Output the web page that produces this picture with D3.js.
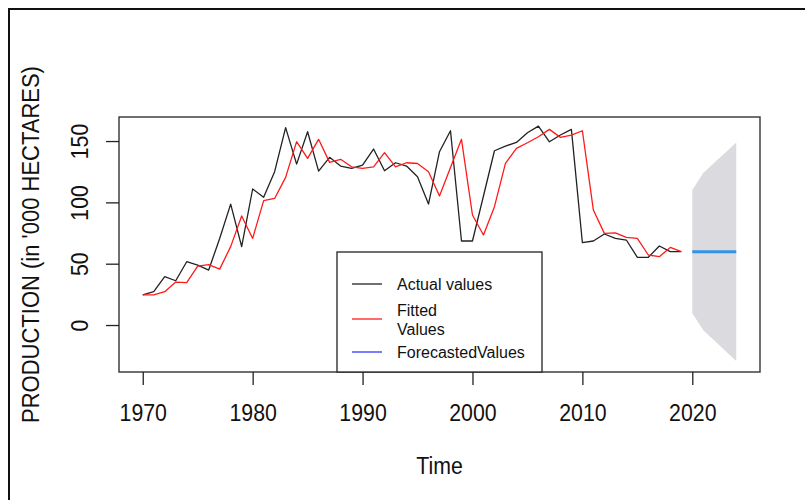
<!DOCTYPE html>
<html><head><meta charset="utf-8">
<script src="https://cdn.jsdelivr.net/npm/d3@7/dist/d3.min.js"></script>
<style>body{margin:0;background:#fff}svg{display:block}</style>
</head><body><svg id="c" width="805" height="500"></svg>
<script>
// ---- data ----
const years = [1970,1971,1972,1973,1974,1975,1976,1977,1978,1979,
  1980,1981,1982,1983,1984,1985,1986,1987,1988,1989,
  1990,1991,1992,1993,1994,1995,1996,1997,1998,1999,
  2000,2001,2002,2003,2004,2005,2006,2007,2008,2009,
  2010,2011,2012,2013,2014,2015,2016,2017,2018,2019];
const actualValues = [24.5,27.2,39.4,36.1,51.6,48.9,44.8,70.6,98.6,63.9,
  110.9,104.1,125,160.9,131.2,157.6,125.5,136.7,129.6,127.7,
  130.4,143.5,125.8,132.3,129.6,120.9,98.6,141.3,158.4,68.5,
  68.5,105.2,142.1,145.9,148.9,156.8,162.2,149.4,154.9,159.5,
  67.1,68.5,74.2,70.6,69.3,55.2,55.2,64.4,59.8,59.8];
const fittedValues = [24.5,24.5,27.2,35,34.5,48.1,49.2,45.6,63.9,88.9,
  70.6,101.4,103.2,120.4,149.5,135.9,151.4,132.6,135.1,129,
  127.7,129,140.5,129,132.3,131.7,125,105.2,128.5,151.4,
  89.7,73.4,96.5,131.8,144,148.6,153.5,159.5,153,154.9,
  158.4,93.7,74.7,75.2,71.5,70.6,57.1,55.7,63.3,59.8];
const forecastYears = [2020,2021,2022,2023,2024];
const forecastMean  = [59.8,59.8,59.8,59.8,59.8];
const forecastUpper = [110.0,123.9,132.2,140.5,148.9];
const forecastLower = [9.6,-4.3,-12.6,-20.9,-29.3];
const xTicks = [1970,1980,1990,2000,2010,2020];
const yTicks = [0,50,100,150];
const legendLabels = [["Actual values"],["Fitted","Values"],["ForecastedValues"]];
const xTitle = "Time";
const yTitle = "PRODUCTION (in '000 HECTARES)";

// ---- layout ----
const svg = d3.select("#c");
const L = 119, R = 760, T = 117, B = 372;
const x = d3.scaleLinear().domain([1967.84, 2026.16]).range([L, R]);
const y = d3.scaleLinear().domain([-38.3, 169.6]).range([B, T]);
const font = "'Liberation Sans', Arial, sans-serif";

// outer frame (top & left edges)
svg.append("line").attr("x1", 8).attr("x2", 805).attr("y1", 9).attr("y2", 9)
  .attr("stroke", "#111").attr("stroke-width", 2);
svg.append("line").attr("x1", 9).attr("x2", 9).attr("y1", 8).attr("y2", 500)
  .attr("stroke", "#111").attr("stroke-width", 2);

// forecast band
const fc = forecastYears.map((yr, i) => ({yr, m: forecastMean[i], lo: forecastLower[i], hi: forecastUpper[i]}));
svg.append("path").datum(fc)
  .attr("d", d3.area().x(d => x(d.yr)).y0(d => y(d.lo)).y1(d => y(d.hi)))
  .attr("fill", "#dadadf");
svg.append("path").datum(fc)
  .attr("d", d3.line().x(d => x(d.yr)).y(d => y(d.m)))
  .attr("fill", "none").attr("stroke", "#2f95e4").attr("stroke-width", 3);

// lines
const act = years.map((yr, i) => [yr, actualValues[i]]);
const fit = years.map((yr, i) => [yr, fittedValues[i]]);
const line = d3.line().x(d => x(d[0])).y(d => y(d[1]));
svg.append("path").datum(act).attr("d", line).attr("fill", "none")
  .attr("stroke", "#222").attr("stroke-width", 1.3).attr("stroke-linejoin", "round");
svg.append("path").datum(fit).attr("d", line).attr("fill", "none")
  .attr("stroke", "#ff1a1a").attr("stroke-width", 1.3).attr("stroke-linejoin", "round");

// box
svg.append("rect").attr("x", L).attr("y", T).attr("width", R - L).attr("height", B - T)
  .attr("fill", "none").attr("stroke", "#333").attr("stroke-width", 1.4);

// x axis
const gx = svg.append("g").attr("transform", `translate(0,${B})`)
  .call(d3.axisBottom(x).tickValues(xTicks).tickSize(13).tickFormat(d3.format("d")));
gx.select(".domain").remove();
gx.selectAll(".tick line").attr("stroke", "#222").attr("stroke-width", 1.3);
gx.selectAll(".tick text").attr("y", null).attr("dy", null)
  .attr("transform", "translate(0,49) scale(1,1.12)")
  .attr("font-family", font).attr("font-size", 21.3).attr("fill", "#111");

// y axis
const gy = svg.append("g").attr("transform", `translate(${L},0)`)
  .call(d3.axisLeft(y).tickValues(yTicks).tickSize(13));
gy.select(".domain").remove();
gy.selectAll(".tick line").attr("stroke", "#222").attr("stroke-width", 1.3);
gy.selectAll(".tick text").attr("x", null).attr("dy", null)
  .attr("text-anchor", "middle")
  .attr("transform", "translate(-31,0) rotate(-90) scale(1,1.12)")
  .attr("font-family", font).attr("font-size", 21.3).attr("fill", "#111");

// titles
svg.append("text").text(xTitle)
  .attr("transform", `translate(${(L + R) / 2},474) scale(1,1.12)`)
  .attr("text-anchor", "middle").attr("font-family", font).attr("font-size", 21.3).attr("fill", "#111");
svg.append("text").text(yTitle)
  .attr("transform", `translate(39,${(T + B) / 2}) rotate(-90) scale(1,1.12)`)
  .attr("text-anchor", "middle").attr("font-family", font).attr("font-size", 22).attr("fill", "#111");

// legend
const lg = svg.append("g");
lg.append("rect").attr("x", 337).attr("y", 252).attr("width", 205).attr("height", B - 252)
  .attr("fill", "#fff").attr("stroke", "#222").attr("stroke-width", 1.3);
const legColors = ["#222", "#ff1a1a", "#3333ff"];
const legY = [284, 319, 352];
legendLabels.forEach((lines, i) => {
  lg.append("line").attr("x1", 352).attr("x2", 382).attr("y1", legY[i]).attr("y2", legY[i])
    .attr("stroke", legColors[i]).attr("stroke-width", 1.3);
  const n = lines.length;
  lines.forEach((t, j) => {
    const cy = legY[i] + (j - (n - 1) / 2) * 19;
    lg.append("text").text(t)
      .attr("x", 397).attr("y", cy + 6)
      .attr("font-family", font).attr("font-size", 16).attr("fill", "#111");
  });
});
</script></body></html>
